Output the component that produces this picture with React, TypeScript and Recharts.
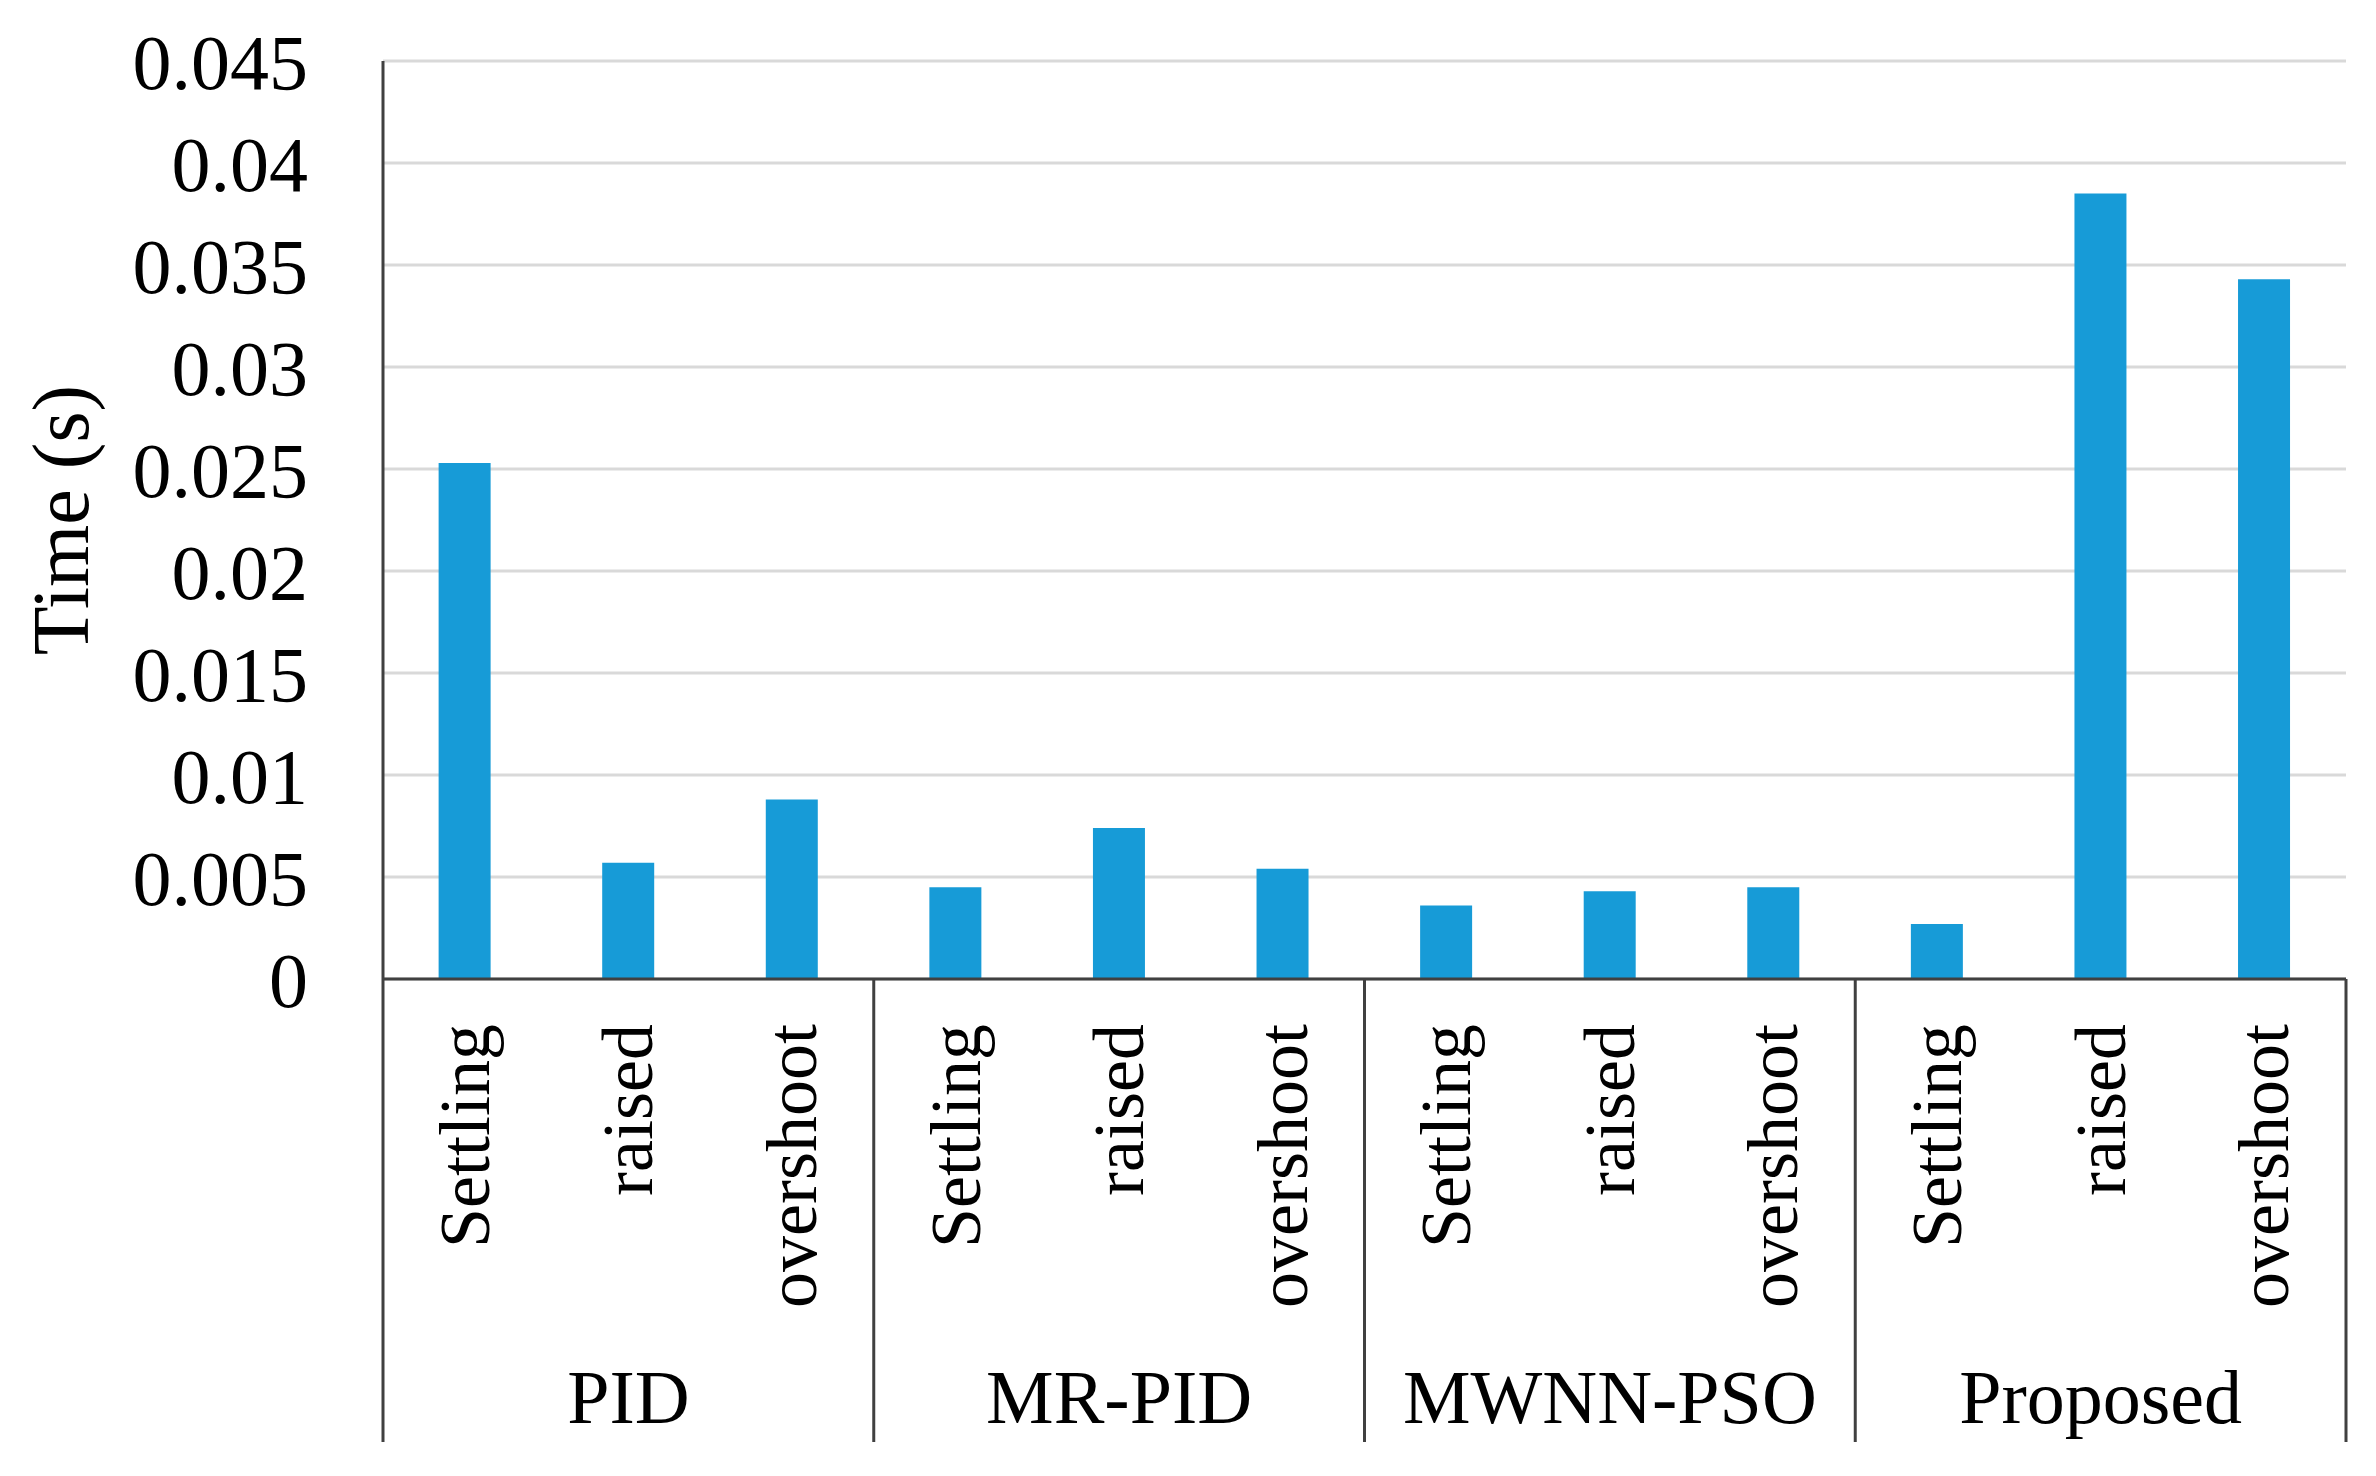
import { Bar, BarChart, CartesianGrid, XAxis, YAxis } from "recharts";

// Time (s) per controller and metric
const groups = ["PID", "MR-PID", "MWNN-PSO", "Proposed"];
const metrics = ["Settling", "raised", "overshoot"];
const pidValues = [0.0253, 0.0057, 0.0088];
const mrPidValues = [0.0045, 0.0074, 0.0054];
const mwnnPsoValues = [0.0036, 0.0043, 0.0045];
const proposedValues = [0.0027, 0.0385, 0.0343];
const yTicks = [0, 0.005, 0.01, 0.015, 0.02, 0.025, 0.03, 0.035, 0.04, 0.045];
const yTickLabels = ["0", "0.005", "0.01", "0.015", "0.02", "0.025", "0.03", "0.035", "0.04", "0.045"];

const seriesByGroup = [pidValues, mrPidValues, mwnnPsoValues, proposedValues];
const data = groups.flatMap((g, gi) =>
  metrics.map((m, mi) => ({ key: `${g}-${m}`, group: g, metric: m, value: seriesByGroup[gi][mi] }))
);

const W = 2376;
const H = 1476;
const margin = { top: 61, right: 30, left: 0, bottom: 0 };
const Y_AXIS_W = 383;
const X_AXIS_H = 497;
const plotW = W - margin.left - margin.right - Y_AXIS_W;
const band = plotW / data.length;

const FONT = '"Liberation Serif", "Times New Roman", serif';
const AXIS = "#404040";

function CategoryTick(props: any) {
  const { x, y, payload } = props;
  const i = payload.index;
  const d = data[i];
  const per = metrics.length;
  return (
    <g>
      <text
        transform={`translate(${x},${y + 45}) rotate(-90)`}
        textAnchor="end"
        dominantBaseline="central"
        fontFamily={FONT}
        fontSize={72}
        fill="#000"
      >
        {d.metric}
      </text>
      {i % per === 1 && (
        <text x={x} y={y + 418} textAnchor="middle" dominantBaseline="central" fontFamily={FONT} fontSize={76} fill="#000">
          {d.group}
        </text>
      )}
      {i % per === 0 && <line x1={x - band / 2} x2={x - band / 2} y1={y} y2={y + 463} stroke={AXIS} strokeWidth={3} />}
      {i === data.length - 1 && (
        <line x1={x + band / 2} x2={x + band / 2} y1={y} y2={y + 463} stroke={AXIS} strokeWidth={3} />
      )}
    </g>
  );
}

export default function App() {
  return (
    <div style={{ width: W, height: H, background: "#fff" }}>
      <style>{`body{margin:0}`}</style>
      <BarChart width={W} height={H} data={data} margin={margin} barCategoryGap="34%">
        <CartesianGrid vertical={false} stroke="#d9d9d9" strokeWidth={3} />
        <XAxis
          dataKey="key"
          height={X_AXIS_H}
          interval={0}
          tickSize={0}
          tickMargin={0}
          axisLine={{ stroke: AXIS, strokeWidth: 3 }}
          tickLine={false}
          tick={<CategoryTick />}
        />
        <YAxis
          width={Y_AXIS_W}
          domain={[0, 0.045]}
          ticks={yTicks}
          interval={0}
          tickFormatter={(v: number) => yTickLabels[yTicks.indexOf(v)] ?? String(v)}
          tickSize={0}
          tickMargin={75}
          tickLine={false}
          axisLine={{ stroke: AXIS, strokeWidth: 3 }}
          tick={{ fill: "#000", fontFamily: FONT, fontSize: 78 }}
          label={{
            content: (p: any) => {
              const vb = p.viewBox || {};
              const cx = 61;
              const cy = (vb.y ?? margin.top) + (vb.height ?? 918) / 2;
              return (
                <text
                  transform={`translate(${cx},${cy}) rotate(-90)`}
                  textAnchor="middle"
                  dominantBaseline="central"
                  fontFamily={FONT}
                  fontSize={80}
                  fill="#000"
                >
                  Time (s)
                </text>
              );
            },
          }}
        />
        <Bar dataKey="value" fill="#179bd7" isAnimationActive={false} />
      </BarChart>
    </div>
  );
}
